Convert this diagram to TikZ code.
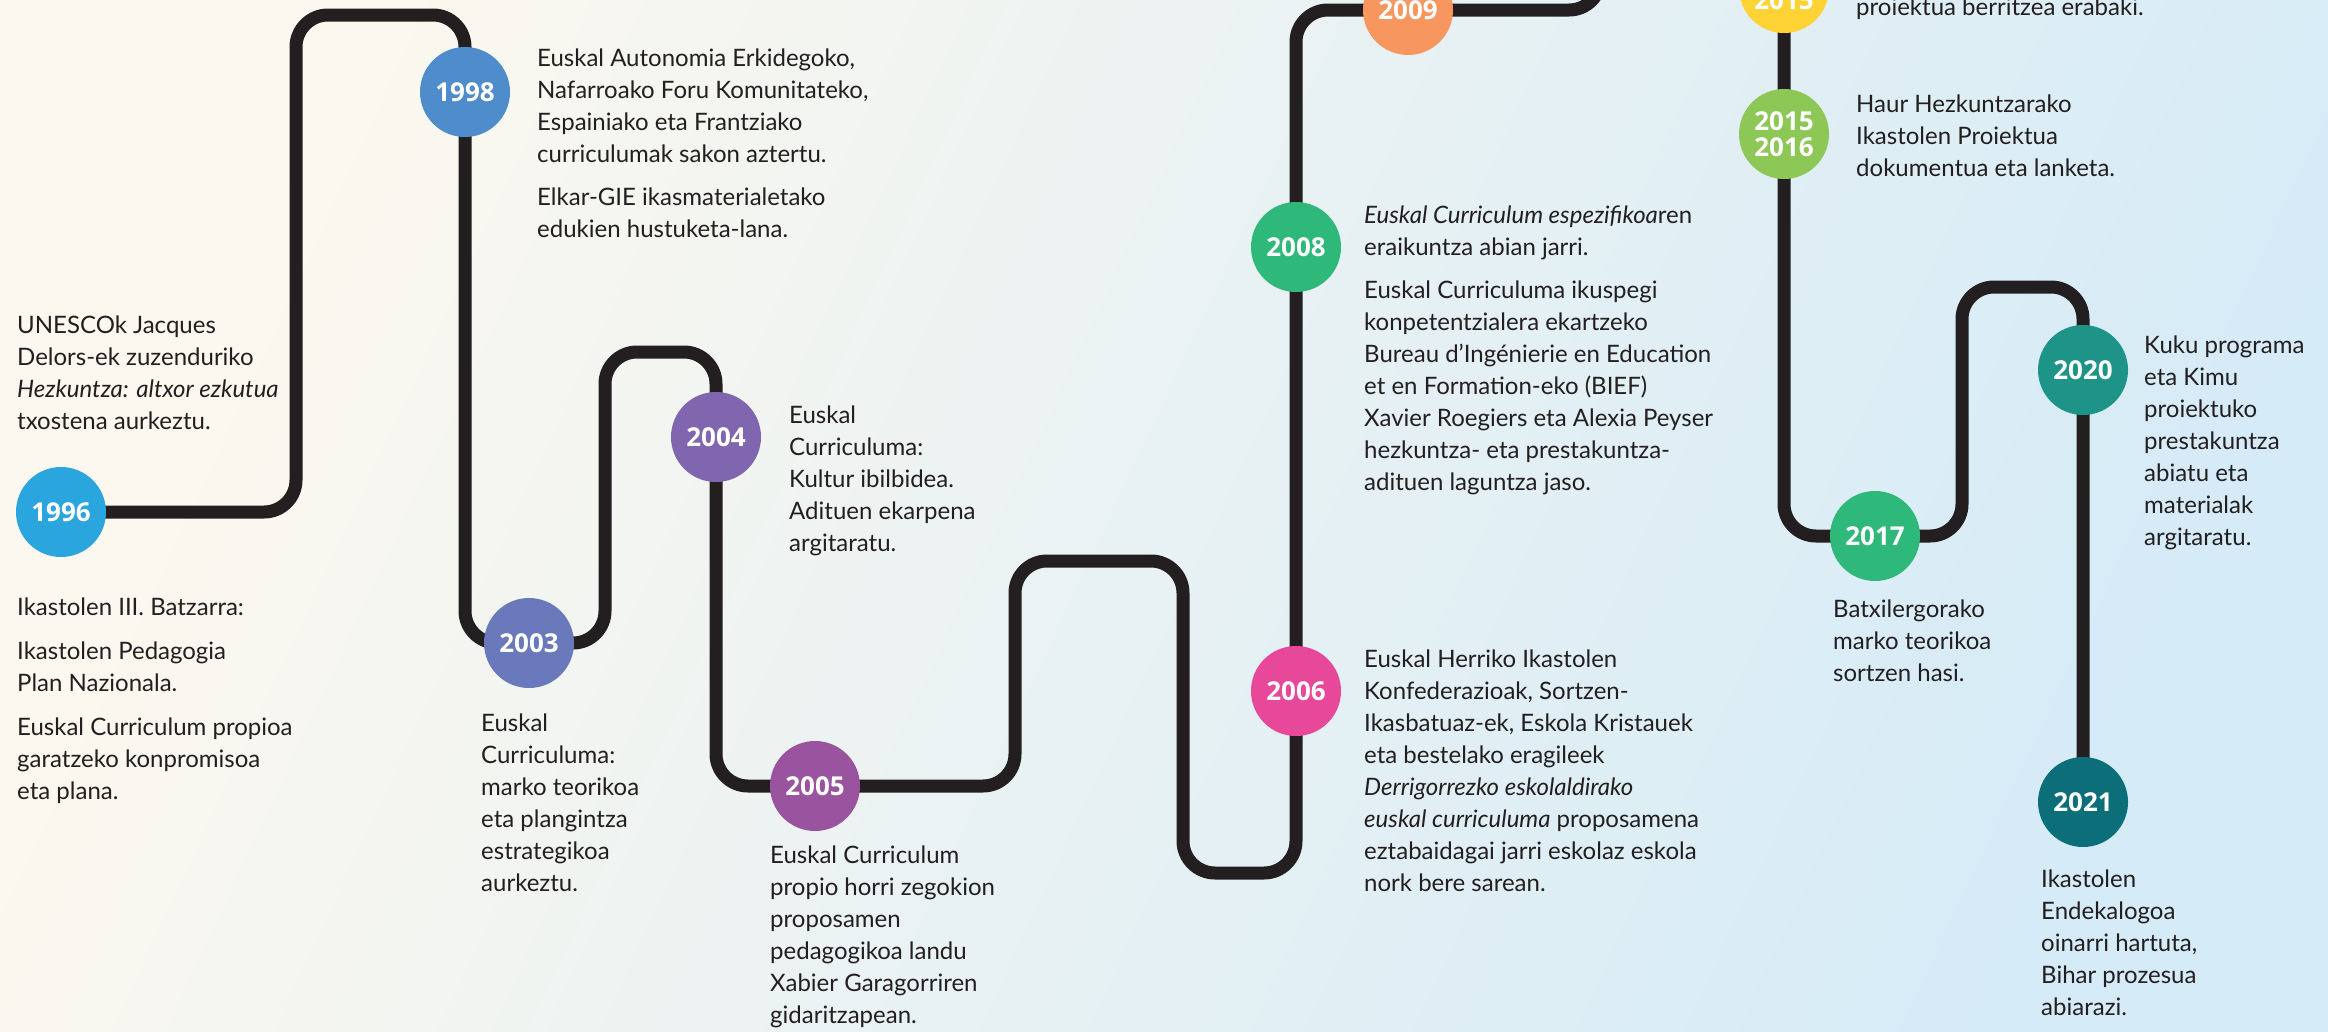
\documentclass[tikz,border=0pt]{standalone}
\usepackage{fontspec}
\setmainfont{Lato}
\newfontfamily\yearfont{Open Sans}
\definecolor{linec}{HTML}{231F20}
\definecolor{textc}{HTML}{231F20}
\definecolor{bgA}{HTML}{FCF8EF}
\definecolor{bgB}{HTML}{D5EBF7}
\definecolor{c1996}{HTML}{2AA5DE}
\definecolor{c1998}{HTML}{4E8CCB}
\definecolor{c2003}{HTML}{6A79BC}
\definecolor{c2004}{HTML}{8066AF}
\definecolor{c2005}{HTML}{9A539E}
\definecolor{c2006}{HTML}{E8489A}
\definecolor{c2008}{HTML}{2EB87A}
\definecolor{c2009}{HTML}{F7965F}
\definecolor{c2015}{HTML}{FDD335}
\definecolor{c2016}{HTML}{8DC756}
\definecolor{c2017}{HTML}{2EB87A}
\definecolor{c2020}{HTML}{1E9387}
\definecolor{c2021}{HTML}{0B6E78}
\newcommand{\fst}{\rule{0pt}{20pt}}
\pgfdeclarelayer{bglayer}
\pgfdeclarelayer{midlayer}
\pgfsetlayers{bglayer,midlayer,main}
\begin{document}
\begin{tikzpicture}[x=1pt,y=-1pt,
  pathline/.style={line width=13pt, draw=linec, rounded corners=32pt},
  yr/.style={circle, fill=#1, minimum size=90pt, inner sep=0pt, text=white,
    font=\yearfont\bfseries\fontsize{26}{26}\selectfont, align=center},
  txt/.style={anchor=north west, inner sep=0pt, align=left, text=textc,
    font=\fontsize{24}{32}\selectfont}]
\useasboundingbox (0,0) rectangle (2328,1031);
\clip (0,0) rectangle (2328,1031);
\begin{pgfonlayer}{bglayer}
\shade[left color=bgA, right color=bgB, shading angle=65] (0,0) rectangle (2328,1031);
\end{pgfonlayer}

% circle nodes
\node[yr=c1996] (y1996) at (61,512) {1996};
\node[yr=c1998] (y1998) at (465,92) {1998};
\node[yr=c2003] (y2003) at (529,643) {2003};
\node[yr=c2004] (y2004) at (716,437) {2004};
\node[yr=c2005] (y2005) at (815,786) {2005};
\node[yr=c2006] (y2006) at (1296,691) {2006};
\node[yr=c2008] (y2008) at (1296,247) {2008};
\node[yr=c2009] (y2009) at (1408,10) {2009};
\node[yr=c2015] (y2015) at (1784,-12) {\raisebox{-21pt}[0pt][0pt]{2015}};
\node[yr=c2016] (y2016) at (1784,134) {2015\\2016};
\node[yr=c2017] (y2017) at (1875,536) {2017};
\node[yr=c2020] (y2020) at (2083,370) {2020};
\node[yr=c2021] (y2021) at (2083,802) {2021};

% path
\coordinate (exitA) at (1601,-80);
\coordinate (enterB) at (1784,-80);
\begin{pgfonlayer}{midlayer}
\draw[pathline] (y1996.center) -- (296,512) -- (296,15) -- (465,15) -- (465,643)
  -- (605,643) -- (605,352) -- (716,352) -- (716,786) -- (1015,786) -- (1015,561)
  -- (1183,561) -- (1183,873) -- (1296,873) -- (1296,10) -- (1601,10) -- (exitA);
\draw[pathline] (enterB) -- (1784,536) -- (1962,536) -- (1962,287) -- (2083,287) -- (y2021.center);
\end{pgfonlayer}

% texts
\node[txt] (t1996a) at (17,313) {\fst UNESCOk Jacques\\Delors-ek zuzenduriko\\\textit{Hezkuntza: altxor ezkutua}\\txostena aurkeztu.};
\node[txt] (t1996b) at (17,595) {\fst Ikastolen III. Batzarra:\\[12pt]Ikastolen Pedagogia\\Plan Nazionala.\\[12pt]Euskal Curriculum propioa\\garatzeko konpromisoa\\eta plana.};
\node[txt] (t1998) at (537,46) {\fst Euskal Autonomia Erkidegoko,\\Nafarroako Foru Komunitateko,\\Espainiako eta Frantziako\\curriculumak sakon aztertu.\\[11pt]Elkar-GIE ikasmaterialetako\\edukien hustuketa-lana.};
\node[txt] (t2003) at (481,711) {\fst Euskal\\Curriculuma:\\marko teorikoa\\eta plangintza\\estrategikoa\\aurkeztu.};
\node[txt] (t2004) at (789,403) {\fst Euskal\\Curriculuma:\\Kultur ibilbidea.\\Adituen ekarpena\\argitaratu.};
\node[txt] (t2005) at (770,843) {\fst Euskal Curriculum\\propio horri zegokion\\proposamen\\pedagogikoa landu\\Xabier Garagorriren\\gidaritzapean.};
\node[txt] (t2006) at (1364,647) {\fst Euskal Herriko Ikastolen\\Konfederazioak, Sortzen-\\Ikasbatuaz-ek, Eskola Kristauek\\eta bestelako eragileek\\\textit{Derrigorrezko eskolaldirako}\\\textit{euskal curriculuma} proposamena\\eztabaidagai jarri eskolaz eskola\\nork bere sarean.};
\node[txt] (t2008) at (1364,203) {\fst\textit{Euskal Curriculum espezifikoa}ren\\eraikuntza abian jarri.\\[11pt]Euskal Curriculuma ikuspegi\\konpetentzialera ekartzeko\\Bureau d'Ingénierie en Education\\et en Formation-eko (BIEF)\\Xavier Roegiers eta Alexia Peyser\\hezkuntza- eta prestakuntza-\\adituen laguntza jaso.};
\node[txt] (t2015) at (1856,-5) {\fst proiektua berritzea erabaki.};
\node[txt] (t2016) at (1856,92) {\fst Haur Hezkuntzarako\\Ikastolen Proiektua\\dokumentua eta lanketa.};
\node[txt] (t2017) at (1833,597) {\fst Batxilergorako\\marko teorikoa\\sortzen hasi.};
\node[txt] (t2020) at (2144,333) {\fst Kuku programa\\eta Kimu\\proiektuko\\prestakuntza\\abiatu eta\\materialak\\argitaratu.};
\node[txt] (t2021) at (2041,867) {\fst Ikastolen\\Endekalogoa\\oinarri hartuta,\\Bihar prozesua\\abiarazi.};
\end{tikzpicture}
\end{document}
